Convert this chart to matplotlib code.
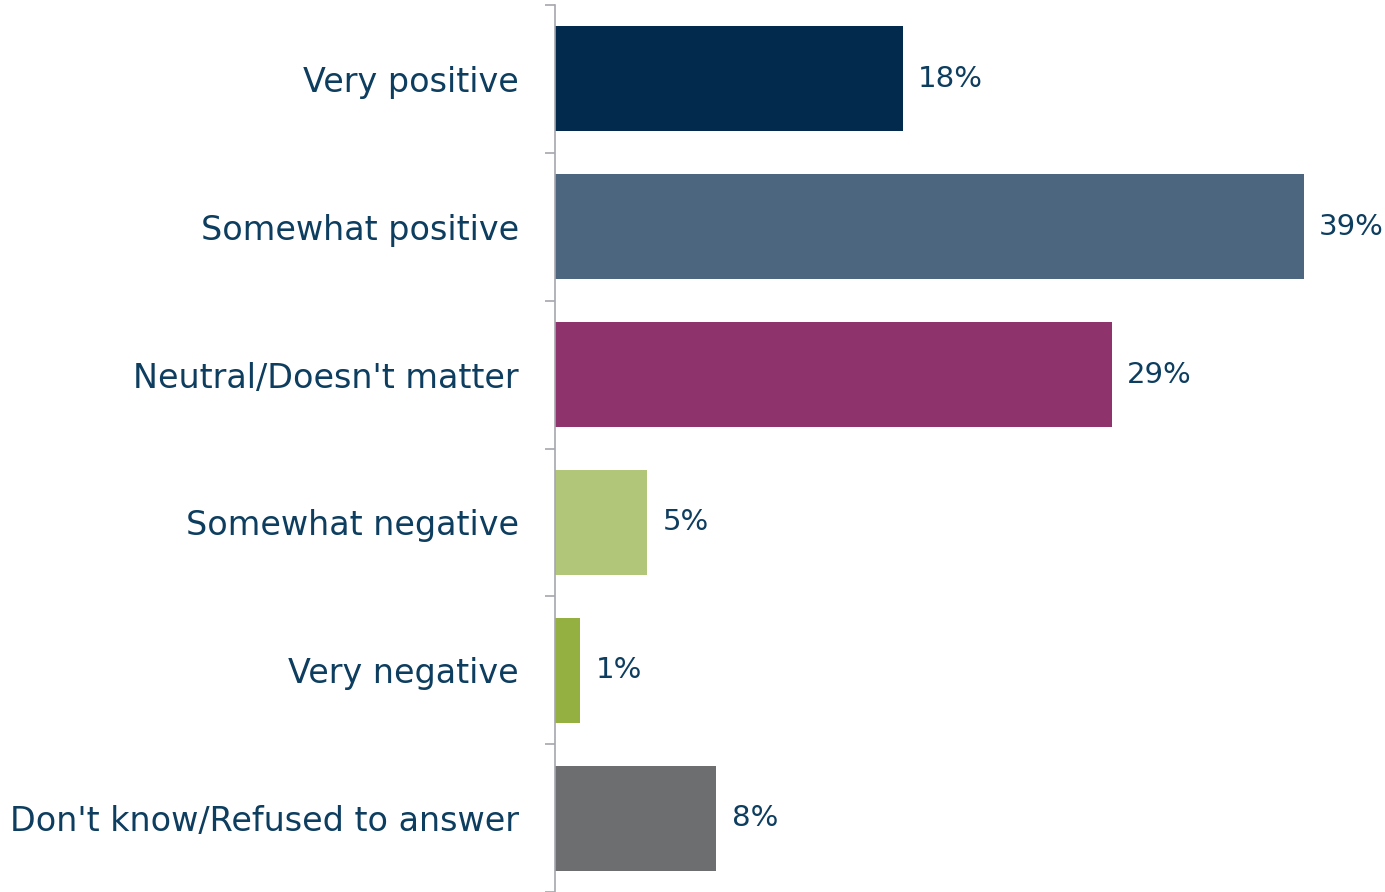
import matplotlib
matplotlib.use('Agg')
import matplotlib.pyplot as plt
import numpy as np

categories = ['Very positive', 'Somewhat positive', "Neutral/Doesn't matter",
              'Somewhat negative', 'Very negative', "Don't know/Refused to answer"]
values = [18.1, 39.0, 29.0, 4.8, 1.3, 8.4]
labels = ['18%', '39%', '29%', '5%', '1%', '8%']
colors = ['#022a4c', '#4c667f', '#8e336c', '#b2c67a', '#94b040', '#6d6e70']

text_color = '#0d3d5f'
plt.rcParams['font.family'] = ['DejaVu Sans']

fig = plt.figure(figsize=(13.85, 8.92), dpi=100)
ax = fig.add_axes([555 / 1385, 0, 830 / 1385, 887 / 892])

y = np.arange(len(categories))
ax.barh(y, values, height=0.71, color=colors)
for yi, v, lab in zip(y, values, labels):
    ax.text(v + 0.8, yi, lab, va='center', ha='left', fontsize=21, color=text_color)

ax.set_ylim(len(categories) - 0.5, -0.5)
ax.set_xlim(0, 830 / 19.2)
ax.set_yticks(y)
ax.set_yticklabels(categories, fontsize=24, color=text_color)
ax.tick_params(axis='y', length=0, pad=26)
# boundary ticks between categories
ax.set_yticks(np.arange(-0.5, len(categories), 1), minor=True)
ax.tick_params(axis='y', which='minor', length=7.5, width=1.2, color='#a6a6ae')
ax.set_xticks([])
for s in ['top', 'right', 'bottom']:
    ax.spines[s].set_visible(False)
ax.spines['left'].set_color('#a6a6ae')
ax.spines['left'].set_linewidth(1.2)

fig.savefig('out.png', dpi=100)
